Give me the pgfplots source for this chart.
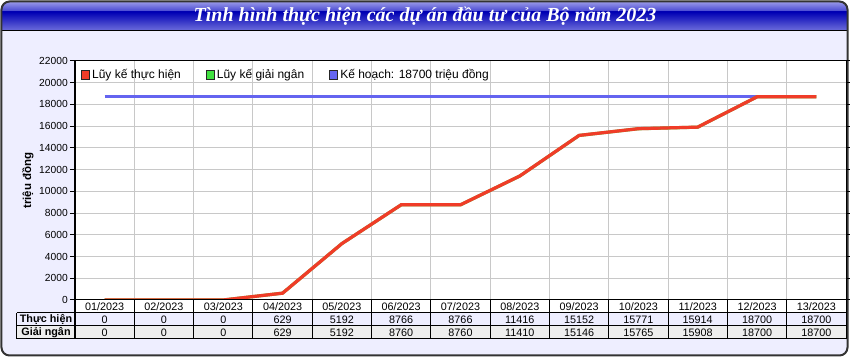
\documentclass[border=0pt]{standalone}
\usepackage{pgfplots}
\pgfplotsset{compat=1.18}
\usepackage{fontspec}
\setmainfont{Liberation Sans}
\newfontfamily\titlefont{Liberation Serif}
\definecolor{bgc}{HTML}{EEEEFF}
\definecolor{rowg}{HTML}{EEEEEE}
\definecolor{redl}{HTML}{F03C28}
\definecolor{greenl}{HTML}{40E040}
\definecolor{bluel}{HTML}{6464F0}
\definecolor{gridc}{HTML}{C8C8C8}
\definecolor{tbA}{HTML}{A8A8EC}
\definecolor{tbB}{HTML}{4040D0}
\definecolor{tbC}{HTML}{0000B4}
\definecolor{tbD}{HTML}{7070DC}
\begin{document}
\begin{tikzpicture}[x=0.75pt,y=0.75pt]
% origin = lower-left corner of plot area = image pixel (75,300); X = px-75, Y = 300-py
\useasboundingbox (-75,-60) rectangle (775,300);
\fill[bgc, rounded corners=6pt] (-73.5,-55.5) rectangle (772.5,298.5);
\begin{scope}
\clip[rounded corners=6pt] (-73.5,-55.5) rectangle (772.5,298.5);
\shade[top color=tbA, bottom color=tbB] (-75,288) rectangle (775,300);
\shade[top color=tbC, bottom color=tbD] (-75,269) rectangle (775,288);
\end{scope}
\draw[black, line width=0.75pt] (-73.5,269) -- (772.5,269);
\draw[black!80, line width=1.5pt, rounded corners=6pt] (-73.5,-55.5) rectangle (772.5,298.5);
\node[text=white, font=\titlefont\bfseries\itshape\fontsize{15}{18}\selectfont] at (350,283.5) {Tình hình thực hiện các dự án đầu tư của Bộ năm 2023};

\begin{axis}[
  at={(0,0)}, anchor=south west, scale only axis,
  width=578.25pt, height=179.25pt,
  xmin=-0.5, xmax=12.5, ymin=0, ymax=22000,
  xtick={-0.5,0.5,...,12.5}, xticklabels={},
  x tick style={draw=none},
  ytick={0,2000,...,22000},
  scaled y ticks=false,
  yticklabel style={/pgf/number format/fixed, /pgf/number format/1000 sep={}, /pgf/number format/assume math mode=true, font=\fontsize{7.7}{9}\selectfont, inner sep=1.5pt},
  tick align=outside, major tick length=3.75pt,
  y tick style={black, line width=0.75pt},
  grid=major, grid style={gridc, line width=0.75pt},
  axis line style={black, line width=0.75pt},
  axis background/.style={fill=white},
  clip=false,
  ylabel={\bfseries triệu đồng},
  ylabel style={at={(axis description cs:-0.061,0.5)}, anchor=center, font=\fontsize{8.6}{10}\selectfont},
  legend columns=3,
  legend style={at={(axis description cs:0.002,0.985)}, anchor=north west, draw=none, fill=none,
    font=\fontsize{9}{11}\selectfont, /tikz/every even column/.append style={column sep=17pt},
    legend cell align=left, nodes={inner sep=1.5pt}},
  legend image code/.code={\draw[#1, draw=black!85, line width=0.6pt] (0pt,-3.2pt) rectangle (6.4pt,3.2pt);},
]
\addlegendimage{fill=redl}
\addlegendentry{Lũy kế thực hiện}
\addlegendimage{fill=greenl}
\addlegendentry{Lũy kế giải ngân}
\addlegendimage{fill=bluel}
\addlegendentry{Kế hoạch: 18700 triệu đồng}
\addplot[bluel, line width=2.4pt, forget plot] coordinates {(0,18700) (12,18700)};
\addplot[greenl!70!redl, line width=2.4pt, forget plot] coordinates {
(0,0) (1,0) (2,0) (3,629) (4,5192) (5,8760) (6,8760) (7,11410) (8,15146) (9,15765) (10,15908) (11,18700) (12,18700)};
\addplot[redl, line width=2.4pt, forget plot] coordinates {
(0,0) (1,0) (2,0) (3,629) (4,5192) (5,8766) (6,8766) (7,11416) (8,15152) (9,15771) (10,15914) (11,18700) (12,18700)};
\end{axis}

% data table under the plot
\fill[white] (0,-13) rectangle (771,0);
\fill[bgc] (-58,-26) rectangle (771,-13);
\fill[rowg] (-58,-39) rectangle (771,-26);
\begin{scope}[line width=0.75pt]
\foreach \i in {0,...,13} \draw ({\i*771/13},0) -- ({\i*771/13},-39);
\draw (0,0) -- (771,0);
\draw (-58,-13) -- (771,-13);
\draw (-58,-26) -- (771,-26);
\draw (-58,-39) -- (771,-39);
\draw (-58,-13) -- (-58,-39);
\end{scope}
\begin{scope}[every node/.style={font=\fontsize{8.1}{9}\selectfont, inner sep=0pt}]
\foreach \m [count=\i from 0] in {01,02,03,04,05,06,07,08,09,10,11,12,13}
  \node at ({(\i+0.5)*771/13},-6.5) {\m/2023};
\foreach \v [count=\i from 0] in {0,0,0,629,5192,8766,8766,11416,15152,15771,15914,18700,18700}
  \node at ({(\i+0.5)*771/13},-19.5) {\v};
\foreach \v [count=\i from 0] in {0,0,0,629,5192,8760,8760,11410,15146,15765,15908,18700,18700}
  \node at ({(\i+0.5)*771/13},-32.5) {\v};
\node[font=\fontsize{8.1}{9}\selectfont\bfseries] at (-29,-19.5) {Thực hiện};
\node[font=\fontsize{8.1}{9}\selectfont\bfseries] at (-29,-32.5) {Giải ngân};
\end{scope}
\end{tikzpicture}
\end{document}
